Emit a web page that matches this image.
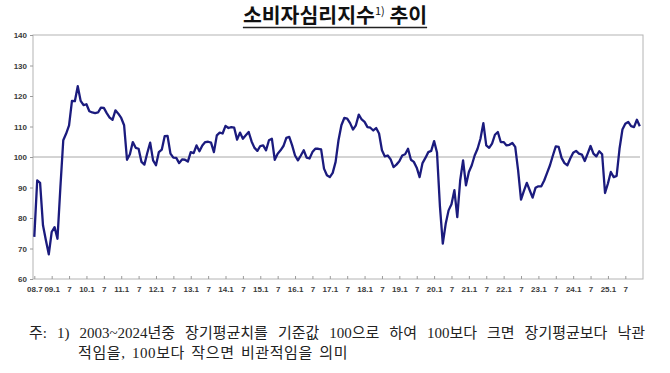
<!DOCTYPE html>
<html>
<head>
<meta charset="utf-8">
<script src="https://cdn.jsdelivr.net/npm/d3@7"></script>
<style>
  body { margin: 0; background: #fff; }
  svg { display: block; }
</style>
</head>
<body>
<script>
// monthly consumer sentiment index, 2008.7 ~ 2025.12
const ccsi = [
  73.8, 92.3, 91.5, 77.6, 72.7, 68.1,
  75.4, 77.0, 73.2, 90.0, 105.5, 107.7, 110.4, 118.4, 118.3, 123.2, 118.4, 117.0,
  117.3, 115.0, 114.6, 114.4, 114.6, 116.2, 116.1, 114.4, 112.9, 112.2, 115.3, 114.2,
  112.8, 110.4, 99.1, 100.9, 104.9, 103.0, 102.7, 98.4, 97.5, 101.3, 104.7, 98.9,
  97.3, 101.6, 102.4, 106.8, 106.9, 101.1, 99.8, 99.7, 98.0, 99.2, 99.1, 98.5,
  101.6, 101.3, 103.8, 101.9, 103.8, 104.9, 105.0, 104.7, 101.6, 107.1, 108.0, 107.7,
  110.2, 109.5, 109.8, 109.6, 105.7, 108.0, 106.0, 107.1, 108.2, 105.1, 103.0, 102.0,
  103.6, 103.8, 102.2, 105.5, 106.0, 99.1, 101.1, 102.2, 103.6, 106.3, 106.6, 103.8,
  100.5, 98.9, 100.5, 102.2, 99.8, 99.5, 101.6, 102.7, 102.7, 102.5, 96.2, 94.0,
  93.4, 94.8, 98.4, 105.5, 110.4, 112.8, 112.6, 111.1, 109.0, 110.4, 113.9, 112.3,
  111.5, 109.8, 109.6, 108.7, 109.5, 107.7, 102.2, 100.2, 100.5, 99.2, 96.7, 97.5,
  98.6, 100.5, 100.9, 102.7, 99.1, 98.4, 96.5, 93.4, 98.0, 99.7, 101.6, 102.0,
  105.2, 101.5, 84.0, 71.6, 78.1, 82.5, 84.5, 89.1, 80.3, 92.3, 98.9, 90.7,
  95.1, 97.3, 100.5, 102.7, 106.0, 111.1, 103.8, 103.0, 104.4, 107.3, 108.2, 104.9,
  104.9, 103.8, 104.0, 104.6, 103.3, 95.6, 86.0, 88.9, 91.5, 89.1, 86.7, 89.9,
  90.4, 90.4, 92.3, 94.8, 97.3, 100.5, 103.5, 103.3, 99.7, 98.0, 97.3, 99.5,
  101.4, 102.0, 101.1, 100.8, 98.7, 101.1, 103.6, 101.1, 100.2, 101.9, 100.9, 88.2,
  91.3, 95.1, 93.4, 93.8, 102.7, 109.0, 110.9, 111.5, 110.1, 109.8, 112.2, 110.1
]

// x tick labels, one every 6 months starting 2008.7
const xTickLabels = [
  '08.7', '09.1', '7', '10.1', '7', '11.1', '7', '12.1', '7', '13.1', '7', '14.1',
  '7', '15.1', '7', '16.1', '7', '17.1', '7', '18.1', '7', '19.1', '7', '20.1',
  '7', '21.1', '7', '22.1', '7', '23.1', '7', '24.1', '7', '25.1', '7'
]
const yTicks = [60, 70, 80, 90, 100, 110, 120, 130, 140]

const titleMain = '소비자심리지수'
const titleSup = '1)'
const titleTail = ' 추이'
const noteLine1 = '주: 1) 2003~2024년중 장기평균치를 기준값 100으로 하여 100보다 크면 장기평균보다 낙관'
const noteLine2 = '적임을, 100보다 작으면 비관적임을 의미'

const W = 670
const H = 373
const frame = { left: 33, right: 643, top: 35, bottom: 279 }

const svg = d3
  .select('body')
  .append('svg')
  .attr('width', W)
  .attr('height', H)

const xPositionScale = d3
  .scaleLinear()
  .domain([0, ccsi.length - 1])
  .range([34.3, 639.8])

const yPositionScale = d3
  .scaleLinear()
  .domain([60, 140])
  .range([frame.bottom, frame.top])

// title
const title = svg
  .append('text')
  .attr('x', W / 2)
  .attr('y', 23)
  .attr('text-anchor', 'middle')
  .attr('font-family', '"Noto Sans CJK KR", sans-serif')
  .attr('font-weight', 700)
  .attr('font-size', 20.5)
  .attr('fill', '#111')
title.append('tspan').text(titleMain)
title
  .append('tspan')
  .attr('font-size', 11)
  .attr('font-weight', 400)
  .attr('dy', -8)
  .text(titleSup)
title.append('tspan').attr('dy', 8).text(titleTail)

const tb = title.node().getBBox()
svg
  .append('line')
  .attr('x1', tb.x)
  .attr('x2', tb.x + tb.width)
  .attr('y1', 27.5)
  .attr('y2', 27.5)
  .attr('stroke', '#222')
  .attr('stroke-width', 1.3)

// frame
svg
  .append('rect')
  .attr('x', frame.left)
  .attr('y', frame.top)
  .attr('width', frame.right - frame.left)
  .attr('height', frame.bottom - frame.top)
  .attr('fill', 'none')
  .attr('stroke', '#b4b4b4')
  .attr('stroke-width', 1)

// reference line at 100
svg
  .append('line')
  .attr('x1', frame.left)
  .attr('x2', frame.right - 3)
  .attr('y1', yPositionScale(100))
  .attr('y2', yPositionScale(100))
  .attr('stroke', '#a8a8a8')
  .attr('stroke-width', 1)

// y axis
const yAxis = d3
  .axisLeft(yPositionScale)
  .tickValues(yTicks)
  .tickSize(3)
  .tickPadding(3)
svg
  .append('g')
  .attr('class', 'axis y-axis')
  .attr('transform', 'translate(' + frame.left + ',0)')
  .call(yAxis)
  .call(g => g.select('.domain').remove())

// x axis, ticks pointing up into the plot
const xAxis = d3
  .axisBottom(xPositionScale)
  .tickValues(xTickLabels.map((d, i) => i * 6))
  .tickFormat((d, i) => xTickLabels[i])
  .tickSizeInner(-3)
  .tickSizeOuter(0)
  .tickPadding(7)
svg
  .append('g')
  .attr('class', 'axis x-axis')
  .attr('transform', 'translate(0,' + frame.bottom + ')')
  .call(xAxis)
  .call(g => g.select('.domain').remove())

svg
  .selectAll('.axis text')
  .attr('font-family', '"Liberation Sans", Arial, sans-serif')
  .attr('font-size', 8)
  .attr('font-weight', 700)
  .attr('fill', '#3a3a3a')
svg.selectAll('.axis line').attr('stroke', '#9a9a9a')

// the index line
const line = d3
  .line()
  .x((d, i) => xPositionScale(i))
  .y(d => yPositionScale(d))

svg
  .append('path')
  .datum(ccsi)
  .attr('d', line)
  .attr('fill', 'none')
  .attr('stroke', '#1b1b7e')
  .attr('stroke-width', 2.3)
  .attr('stroke-linejoin', 'round')

// footnote
const note = svg
  .append('g')
  .attr('font-family', '"Liberation Serif", "Noto Sans CJK KR", serif')
  .attr('font-size', 15)
  .attr('fill', '#222')

const n1 = note
  .append('text')
  .attr('x', 29)
  .attr('y', 338)
  .text(noteLine1)
// justify the first line by widening the word gaps only
const gaps = noteLine1.split(' ').length - 1
const spare = 616 - n1.node().getComputedTextLength()
n1.attr('word-spacing', spare / gaps)

note
  .append('text')
  .attr('x', 78)
  .attr('y', 358)
  .attr('letter-spacing', 0.6)
  .attr('word-spacing', 2)
  .text(noteLine2)
</script>
</body>
</html>
